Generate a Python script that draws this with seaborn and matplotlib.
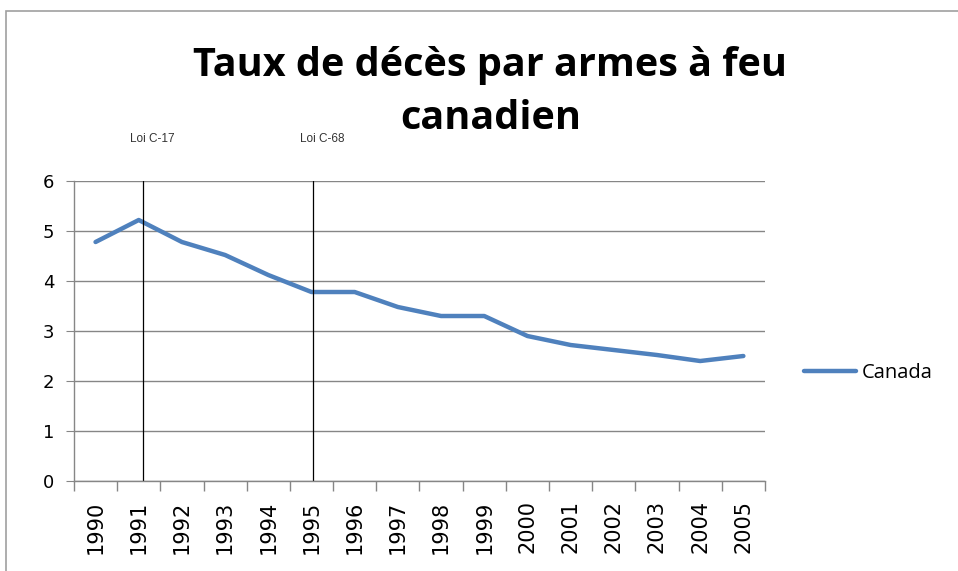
import numpy as np
import pandas as pd
import matplotlib
matplotlib.use('Agg')
import matplotlib.pyplot as plt
import seaborn as sns
from matplotlib.patches import Rectangle

# -------------------------------
# Data
# -------------------------------
years = [1990, 1991, 1992, 1993, 1994, 1995, 1996, 1997,
         1998, 1999, 2000, 2001, 2002, 2003, 2004, 2005]
canada = [4.78, 5.22, 4.78, 4.52, 4.12, 3.78, 3.78, 3.48,
          3.30, 3.30, 2.90, 2.72, 2.62, 2.52, 2.40, 2.50]
law_years = [1991, 1995]
law_labels = ["Loi C-17", "Loi C-68"]
title_lines = ["Taux de décès par armes à feu", "canadien"]

df = pd.DataFrame({"Année": years, "Taux": canada})

sns.set_style("white")
plt.rcParams['font.family'] = ['Open Sans', 'DejaVu Sans']
plt.rcParams['text.color'] = 'black'
plt.rcParams['xtick.color'] = 'black'
plt.rcParams['ytick.color'] = 'black'

fig = plt.figure(figsize=(9.58, 5.71), dpi=100)
ax = fig.add_axes([0.0772, 0.1576, 0.7213, 0.5254])

sns.lineplot(data=df, x="Année", y="Taux", ax=ax, color="#4F81BD",
             linewidth=3.2, label="Canada", solid_capstyle='round')

# law markers (drawn a hair right of the category centre, as in the original)
for yr, lab, dx in zip(law_years, law_labels, [0.1, 0.03]):
    ax.axvline(yr + dx, ymin=0, ymax=1.0, color="black", linewidth=0.9)
    ax.text(yr + dx + 0.22, 6.85, lab, ha="center", va="center",
            fontsize=8.5, family="Liberation Sans", color="#333333")

ax.set_xlim(years[0] - 0.5, years[-1] + 0.5)
ax.set_ylim(0, 6)
ax.set_yticks(range(0, 7))
ax.set_yticklabels([str(v) for v in range(0, 7)], family="DejaVu Sans", fontsize=13)
ax.set_xticks(years)
ax.set_xticklabels([str(y) for y in years], rotation=90, fontsize=15,
                   family="DejaVu Sans")
ax.set_xticks(np.arange(years[0] - 0.5, years[-1] + 1), minor=True)
ax.tick_params(axis='x', which='major', bottom=True, length=0, pad=14)
ax.tick_params(axis='x', which='minor', bottom=True, length=7,
               color="#868686", width=1)
ax.tick_params(axis='y', left=True, length=6, color="#868686", pad=8)
ax.set_xlabel("")
ax.set_ylabel("")

ax.yaxis.grid(True, color="#868686", linewidth=1)
ax.xaxis.grid(False)
for s in ["top", "right"]:
    ax.spines[s].set_visible(False)
for s in ["left", "bottom"]:
    ax.spines[s].set_color("#868686")
    ax.spines[s].set_linewidth(1)

leg = ax.legend(loc="center left", bbox_to_anchor=(1.03, 0.36), frameon=False,
                fontsize=14.5, handlelength=2.6, handletextpad=0.3)

# title, one text per line
for yy, line in zip([0.886, 0.793], title_lines):
    fig.text(0.512, yy, line, ha="center", va="center", fontsize=28.5,
             fontweight="bold", family="Open Sans", color="black")

# outer chart frame
fig.patches.append(Rectangle((0.006, -0.02), 1.1, 1.0, transform=fig.transFigure,
                             fill=False, edgecolor="#A0A0A0", linewidth=1.2))

plt.savefig("out.png", dpi=100)
plt.close()
